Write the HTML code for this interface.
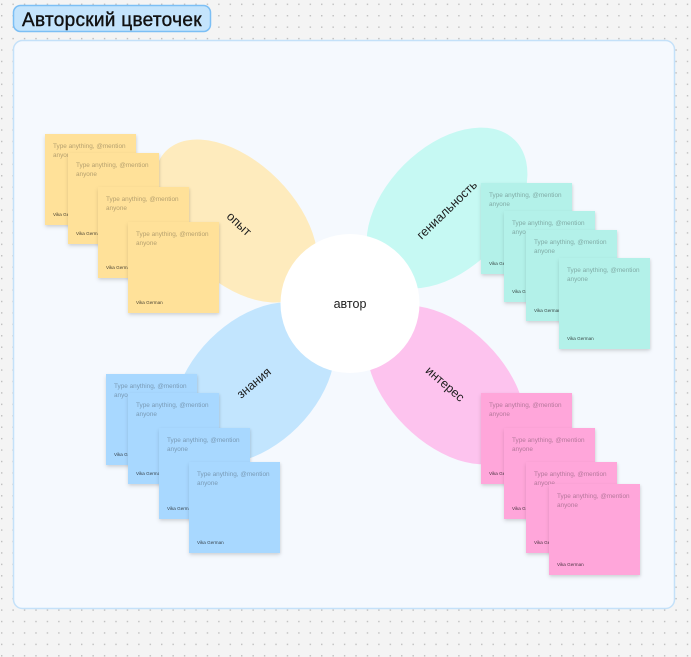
<!DOCTYPE html>
<html><head><meta charset="utf-8">
<style>
html,body{margin:0;padding:0;}
body{width:691px;height:657px;position:relative;overflow:hidden;background:#f4f4f4;font-family:"Liberation Sans","Noto Sans CJK SC",sans-serif;}
svg.bg{position:absolute;left:0;top:0;}
.st{position:absolute;width:91px;height:91px;box-shadow:0 2px 4px rgba(0,0,0,0.13),1px 1px 2px rgba(0,0,0,0.05);}
.st .t{position:absolute;left:8px;top:8px;font-size:6.4px;line-height:9.4px;color:rgba(20,20,20,0.33);white-space:nowrap;}
.st .n{position:absolute;left:8px;top:78px;font-size:4.6px;line-height:6px;color:rgba(20,20,20,0.8);white-space:nowrap;}
.y{background:#ffe199;}
.g{background:#b3f1e9;}
.b{background:#a8d8ff;}
.p{background:#ffa6da;}
</style></head><body>
<svg class="bg" width="691" height="657" viewBox="0 0 691 657" xmlns="http://www.w3.org/2000/svg">
<defs>
<pattern id="dots" x="1" y="3.6" width="11.43" height="11.43" patternUnits="userSpaceOnUse">
<rect x="0" y="0" width="1.4" height="1.4" fill="#bdbdbd"/>
</pattern>
</defs>
<rect x="0" y="0" width="691" height="657" fill="#f4f4f4"/>
<rect x="0" y="0" width="691" height="657" fill="url(#dots)"/>
<rect x="13.5" y="40.5" width="661" height="568" rx="9" fill="#f5f9fe" stroke="#c4e1f9" stroke-width="1.5"/>
<rect x="13.5" y="5.5" width="197" height="26" rx="7" fill="#c4e4fc" stroke="#7cbff5" stroke-width="1.5"/>
<text x="22" y="26" font-family="Liberation Sans, sans-serif" font-size="19" letter-spacing="0.3" fill="#111" stroke="#111" stroke-width="0.4">Авторский цветочек</text>

<ellipse cx="236" cy="221" rx="99" ry="59" transform="rotate(45 236 221)" fill="#feebbd"/>
<ellipse cx="447" cy="208" rx="96" ry="61" transform="rotate(-45 447 208)" fill="#c6f9f3"/>
<ellipse cx="254" cy="383" rx="96" ry="62" transform="rotate(-45 254 383)" fill="#c2e5fe"/>
<ellipse cx="446" cy="385" rx="96" ry="58" transform="rotate(45 446 385)" fill="#fdc3ee"/>
<circle cx="350" cy="303.5" r="69.5" fill="#ffffff"/>

<g font-family="Liberation Sans, sans-serif" font-size="12.5" fill="#1e1e1e" text-anchor="middle" dominant-baseline="central">
<text x="350" y="304">автор</text>
<text x="239" y="224" transform="rotate(43 239 224)">опыт</text>
<text x="447" y="210" transform="rotate(-44 447 210)">гениальность</text>
<text x="254" y="383" transform="rotate(-40 254 383)">знания</text>
<text x="445" y="384" transform="rotate(41 445 384)">интерес</text>
</g>
</svg>

<!-- yellow -->
<div class="st y" style="left:45px;top:134px"><div class="t">Type anything, @mention<br>anyone</div><div class="n">Vika German</div></div>
<div class="st y" style="left:68px;top:153px"><div class="t">Type anything, @mention<br>anyone</div><div class="n">Vika German</div></div>
<div class="st y" style="left:98px;top:187px"><div class="t">Type anything, @mention<br>anyone</div><div class="n">Vika German</div></div>
<div class="st y" style="left:128px;top:222px"><div class="t">Type anything, @mention<br>anyone</div><div class="n">Vika German</div></div>

<!-- teal -->
<div class="st g" style="left:481px;top:183px"><div class="t">Type anything, @mention<br>anyone</div><div class="n">Vika German</div></div>
<div class="st g" style="left:504px;top:211px"><div class="t">Type anything, @mention<br>anyone</div><div class="n">Vika German</div></div>
<div class="st g" style="left:526px;top:230px"><div class="t">Type anything, @mention<br>anyone</div><div class="n">Vika German</div></div>
<div class="st g" style="left:559px;top:258px"><div class="t">Type anything, @mention<br>anyone</div><div class="n">Vika German</div></div>

<!-- blue -->
<div class="st b" style="left:106px;top:374px"><div class="t">Type anything, @mention<br>anyone</div><div class="n">Vika German</div></div>
<div class="st b" style="left:128px;top:393px"><div class="t">Type anything, @mention<br>anyone</div><div class="n">Vika German</div></div>
<div class="st b" style="left:159px;top:428px"><div class="t">Type anything, @mention<br>anyone</div><div class="n">Vika German</div></div>
<div class="st b" style="left:189px;top:462px"><div class="t">Type anything, @mention<br>anyone</div><div class="n">Vika German</div></div>

<!-- pink -->
<div class="st p" style="left:481px;top:393px"><div class="t">Type anything, @mention<br>anyone</div><div class="n">Vika German</div></div>
<div class="st p" style="left:504px;top:428px"><div class="t">Type anything, @mention<br>anyone</div><div class="n">Vika German</div></div>
<div class="st p" style="left:526px;top:462px"><div class="t">Type anything, @mention<br>anyone</div><div class="n">Vika German</div></div>
<div class="st p" style="left:549px;top:484px"><div class="t">Type anything, @mention<br>anyone</div><div class="n">Vika German</div></div>
</body></html>
